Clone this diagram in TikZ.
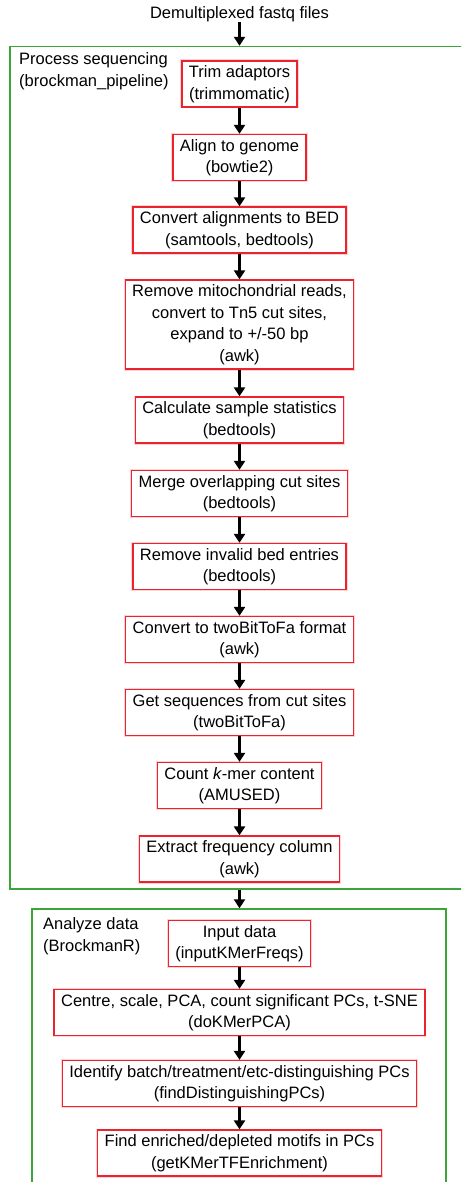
\documentclass[tikz,border=0pt]{standalone}
\usepackage{fontspec}
\setmainfont{Liberation Sans}
\usetikzlibrary{arrows.meta}
\definecolor{boxred}{RGB}{235,35,45}
\definecolor{groupgreen}{RGB}{60,165,55}
\tikzset{
    stepbox/.style={draw=boxred, line width=1.3pt, rectangle, align=center, inner xsep=7pt, inner ysep=2pt, minimum height=46pt, fill=white, preaction={draw=boxred!20, line width=3pt}, font=\fontsize{16.5}{21.5}\selectfont},
    group/.style={draw=groupgreen, line width=1.4pt, rectangle, inner sep=0pt},
    grouplabel/.style={anchor=west, align=left, inner sep=0pt, font=\fontsize{16.5}{21.5}\selectfont},
    flow/.style={-{Triangle[length=9pt,width=11pt]}, line width=2.6pt}
}
\begin{document}
\begin{tikzpicture}[x=1pt, y=-1pt]
    \useasboundingbox (0,0) rectangle (461,1182);
    \clip (0,0) rectangle (461,1182);
    \node[group, minimum width=470pt, minimum height=842.5pt] (Process) at (245,467.75) {};
    \node[group, minimum width=414pt, minimum height=291pt] (Analyze) at (239,1054.5) {};
    \node[grouplabel] (ProcessLabel) at (19,71) {Process sequencing\\(brockman\_pipeline)};
    \node[grouplabel] (AnalyzeLabel) at (43,936) {Analyze data\\(BrockmanR)};
    \node[inner sep=0pt, font=\fontsize{16.5}{21.5}\selectfont] (Fastq) at (239.5,14) {Demultiplexed fastq files};
    \node[stepbox] (Trim) at (239.5,84) {Trim adaptors\\(trimmomatic)};
    \node[stepbox] (Align) at (239.5,157.5) {Align to genome\\(bowtie2)};
    \node[stepbox] (Bed) at (239.5,230) {Convert alignments to BED\\(samtools, bedtools)};
    \node[stepbox, minimum height=89pt] (Mito) at (239.5,324.5) {Remove mitochondrial reads,\\convert to Tn5 cut sites,\\expand to +/-50 bp\\(awk)};
    \node[stepbox] (Stats) at (239.5,420) {Calculate sample statistics\\(bedtools)};
    \node[stepbox] (Merge) at (239.5,493.5) {Merge overlapping cut sites\\(bedtools)};
    \node[stepbox] (Invalid) at (239.5,566.5) {Remove invalid bed entries\\(bedtools)};
    \node[stepbox] (Format) at (239.5,639.5) {Convert to twoBitToFa format\\(awk)};
    \node[stepbox] (Seqs) at (239.5,712.5) {Get sequences from cut sites\\(twoBitToFa)};
    \node[stepbox] (Kmer) at (239.5,785.5) {Count \textit{k}-mer content\\(AMUSED)};
    \node[stepbox] (Freq) at (239.5,859) {Extract frequency column\\(awk)};
    \node[stepbox] (Input) at (239.5,943.5) {Input data\\(inputKMerFreqs)};
    \node[stepbox] (PCA) at (239.5,1012.5) {Centre, scale, PCA, count significant PCs, t-SNE\\(doKMerPCA)};
    \node[stepbox] (Batch) at (239.5,1083.5) {Identify batch/treatment/etc-distinguishing PCs\\(findDistinguishingPCs)};
    \node[stepbox] (Motifs) at (239.5,1153) {Find enriched/depleted motifs in PCs\\(getKMerTFEnrichment)};
    \draw[flow] (Fastq.south) -- (Fastq.south |- Process.north);
    \draw[flow] (Trim.south) -- (Align.north);
    \draw[flow] (Align.south) -- (Bed.north);
    \draw[flow] (Bed.south) -- (Mito.north);
    \draw[flow] (Mito.south) -- (Stats.north);
    \draw[flow] (Stats.south) -- (Merge.north);
    \draw[flow] (Merge.south) -- (Invalid.north);
    \draw[flow] (Invalid.south) -- (Format.north);
    \draw[flow] (Format.south) -- (Seqs.north);
    \draw[flow] (Seqs.south) -- (Kmer.north);
    \draw[flow] (Kmer.south) -- (Freq.north);
    \draw[flow] (Freq.south |- Process.south) -- (Freq.south |- Analyze.north);
    \draw[flow] (Input.south) -- (PCA.north);
    \draw[flow] (PCA.south) -- (Batch.north);
    \draw[flow] (Batch.south) -- (Motifs.north);
\end{tikzpicture}
\end{document}
